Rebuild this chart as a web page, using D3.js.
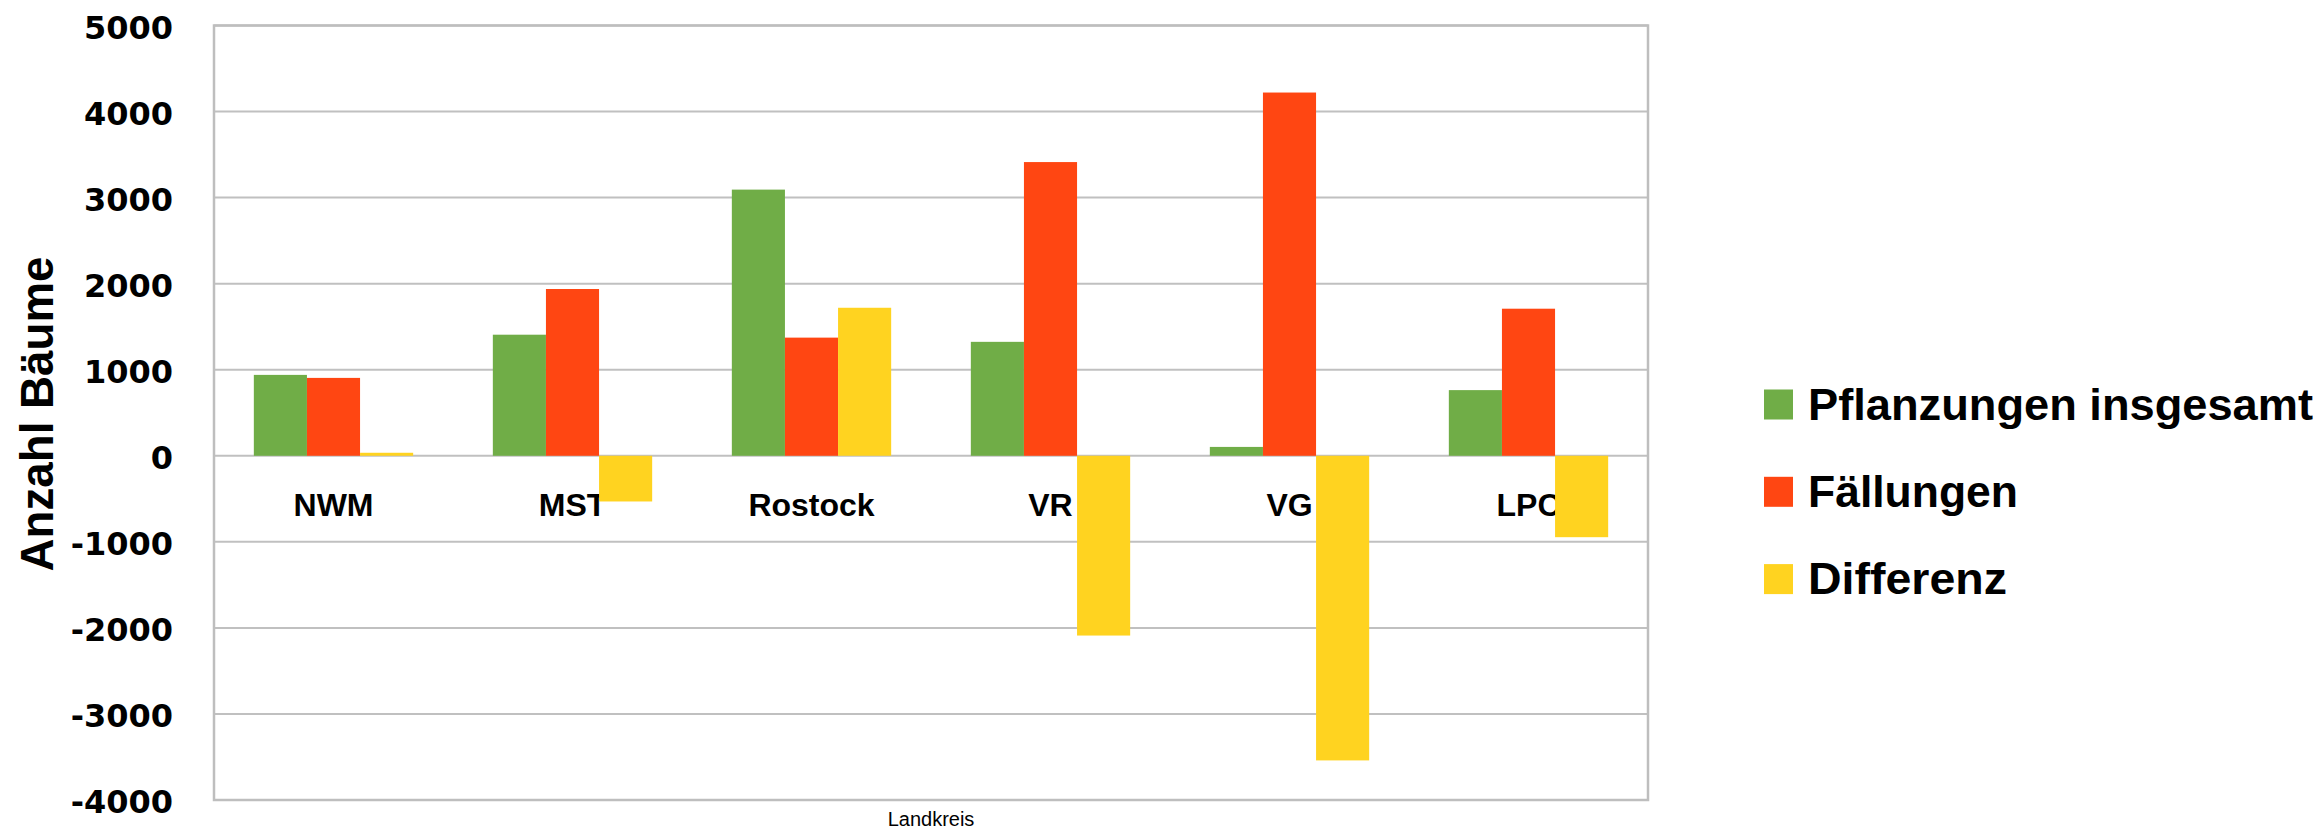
<!DOCTYPE html>
<html lang="de">
<head>
  <meta charset="UTF-8">
  <title>Pflanzungen und Fällungen je Landkreis</title>
  <script src="https://d3js.org/d3.v7.min.js"></script>
  <style>
    body { margin: 0; background: #fff; }
    svg { display: block; }
  </style>
</head>
<body>
  <svg id="chart" width="2323" height="830"></svg>

  <script>
    // values
    const categories = ["NWM", "MST", "Rostock", "VR", "VG", "LPC"];
    const seriesNames = ["Pflanzungen insgesamt", "Fällungen", "Differenz"];
    const pflanzungen = [940, 1407, 3093, 1324, 103, 763];
    const faellungen = [905, 1938, 1373, 3413, 4221, 1709];
    const differenz = [35, -531, 1720, -2089, -3540, -946];
    const yTicks = [-4000, -3000, -2000, -1000, 0, 1000, 2000, 3000, 4000, 5000];
    const colors = ["#70AD47", "#FF4612", "#FFD320"];

    const seriesValues = [pflanzungen, faellungen, differenz];

    const svg = d3.select("#chart");
    const width = +svg.attr("width");
    const height = +svg.attr("height");
    const margin = { top: 25.5, right: 675, bottom: 30, left: 214 };

    const labelFont = "'Liberation Sans', Arial, sans-serif";

    const x0 = d3.scaleBand()
      .domain(categories)
      .range([margin.left, width - margin.right])
      .padding(0);

    // gap width 150% like the office default
    const x1 = d3.scaleBand()
      .domain(seriesNames)
      .range([0, x0.bandwidth()])
      .paddingInner(0)
      .paddingOuter(0.75);

    const y = d3.scaleLinear()
      .domain([-4000, 5000])
      .range([height - margin.bottom, margin.top]);

    // grid lines
    svg.append("g")
      .selectAll("line")
      .data(yTicks)
      .join("line")
      .attr("x1", margin.left)
      .attr("x2", width - margin.right)
      .attr("y1", d => y(d))
      .attr("y2", d => y(d))
      .attr("stroke", "#C0C0C0")
      .attr("stroke-width", 2);

    // plot frame
    svg.append("rect")
      .attr("x", margin.left)
      .attr("y", margin.top)
      .attr("width", width - margin.left - margin.right)
      .attr("height", height - margin.top - margin.bottom)
      .attr("fill", "none")
      .attr("stroke", "#BEBEBE")
      .attr("stroke-width", 2.5);

    // y tick labels
    svg.append("g")
      .selectAll("text")
      .data(yTicks)
      .join("text")
      .attr("x", 173)
      .attr("y", d => y(d) + 13)
      .attr("text-anchor", "end")
      .style("font-family", "'DejaVu Sans', Verdana, sans-serif")
      .style("font-weight", "bold")
      .style("font-size", "32px")
      .style("fill", "#000")
      .text(d => d);

    // category labels sit just under the zero line, bars are drawn over them
    svg.append("g")
      .selectAll("text")
      .data(categories)
      .join("text")
      .attr("x", d => x0(d) + x0.bandwidth() / 2)
      .attr("y", y(0) + 60)
      .attr("text-anchor", "middle")
      .style("font-family", labelFont)
      .style("font-weight", "bold")
      .style("font-size", "32px")
      .style("fill", "#000")
      .text(d => d);

    // bars
    const groups = svg.append("g")
      .selectAll("g")
      .data(categories)
      .join("g")
      .attr("transform", d => `translate(${x0(d)},0)`);

    groups.selectAll("rect")
      .data((d, i) => seriesNames.map((name, s) => ({ name, s, value: seriesValues[s][i] })))
      .join("rect")
      .attr("x", d => x1(d.name))
      .attr("width", x1.bandwidth())
      .attr("y", d => y(Math.max(0, d.value)))
      .attr("height", d => Math.abs(y(d.value) - y(0)))
      .attr("fill", d => colors[d.s]);

    // axis titles
    svg.append("text")
      .attr("transform", `translate(53,414) rotate(-90)`)
      .attr("text-anchor", "middle")
      .attr("textLength", 315)
      .attr("lengthAdjust", "spacingAndGlyphs")
      .style("font-family", labelFont)
      .style("font-weight", "bold")
      .style("font-size", "46px")
      .text("Anzahl Bäume");

    svg.append("text")
      .attr("x", (margin.left + width - margin.right) / 2)
      .attr("y", 826)
      .attr("text-anchor", "middle")
      .style("font-family", labelFont)
      .style("font-size", "20px")
      .text("Landkreis");

    // legend
    const legendWidths = [505, 210, 199];
    const legend = svg.append("g")
      .selectAll("g")
      .data(seriesNames)
      .join("g")
      .attr("transform", (d, i) => `translate(1764,${419.5 + i * 87.3})`);

    legend.append("rect")
      .attr("x", 0)
      .attr("y", -30)
      .attr("width", 29)
      .attr("height", 30)
      .attr("fill", (d, i) => colors[i]);

    legend.append("text")
      .attr("x", 44)
      .attr("y", 0)
      .attr("textLength", (d, i) => legendWidths[i])
      .attr("lengthAdjust", "spacingAndGlyphs")
      .style("font-family", labelFont)
      .style("font-weight", "bold")
      .style("font-size", "45px")
      .text(d => d);
  </script>
</body>
</html>
